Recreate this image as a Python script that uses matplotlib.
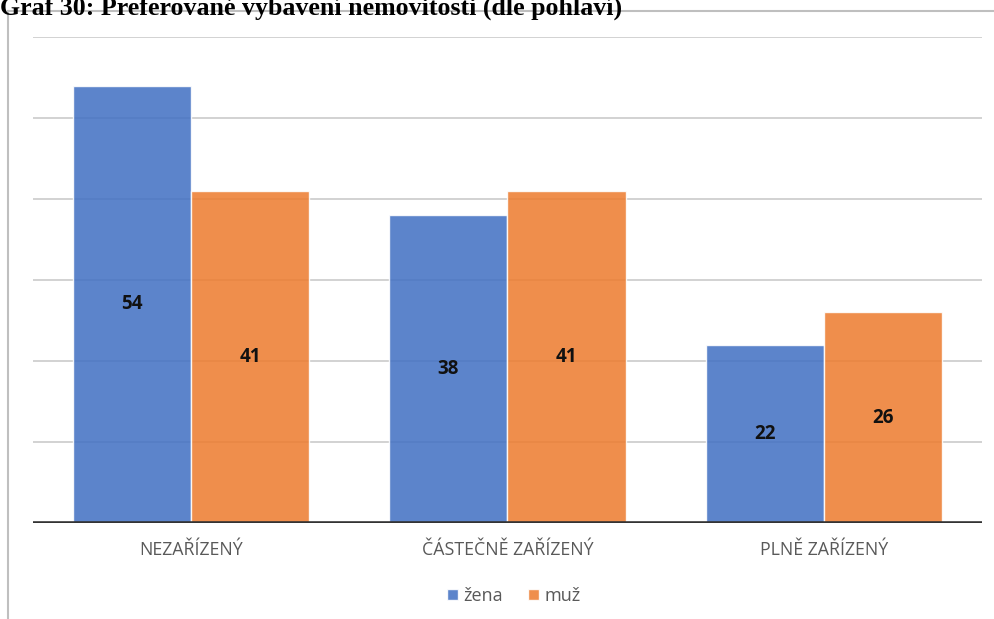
import matplotlib
matplotlib.use("Agg")
import matplotlib.pyplot as plt
from matplotlib.lines import Line2D
import numpy as np

title = "Graf 30: Preferované vybavení nemovitosti (dle pohlaví)"
categories = ["NEZAŘÍZENÝ", "ČÁSTEČNĚ ZAŘÍZENÝ", "PLNĚ ZAŘÍZENÝ"]
series_names = ["žena", "muž"]
zena = [54, 38, 22]
muz = [41, 41, 26]
colors = ["#4472C4", "#ED7D31"]

W, H = 995, 619
fig = plt.figure(figsize=(W / 100, H / 100), dpi=100)

# outer chart frame (top and left edges)
fig.add_artist(Line2D([8 / W, 8 / W], [0, 1 - 11 / H], transform=fig.transFigure,
                      color="#bfbfbf", lw=1.5))
fig.add_artist(Line2D([8 / W, 1], [1 - 11 / H, 1 - 11 / H], transform=fig.transFigure,
                      color="#bfbfbf", lw=1.5))

fig.text(0, 1 - 15 / H, title, fontsize=18.6, fontweight="bold",
         family="Liberation Serif", va="baseline", ha="left")

ax = fig.add_axes([33 / W, (H - 523) / H, (982 - 33) / W, (523 - 37) / H])
x = np.arange(len(categories))
bw = 0.374
ax.set_xlim(-0.5, len(categories) - 0.5)
ax.set_ylim(0, 60)

for yv in range(10, 61, 10):
    ax.axhline(yv, color="#cfcfcf", lw=1.3, zorder=1)

for i, (vals, c) in enumerate(zip([zena, muz], colors)):
    xs = x + (i - 0.5) * bw
    ax.bar(xs, vals, width=bw, color=c, alpha=0.87,
           edgecolor=(1, 1, 1, 0.5), linewidth=1, zorder=2, label=series_names[i])
    for xi, v in zip(xs, vals):
        ax.text(xi, v / 2, str(v), ha="center", va="center", fontsize=13.5,
                fontweight="bold", family="Open Sans", color="#111111", zorder=3)

ax.axhline(0, color="#333333", lw=2.6, zorder=3)
for s in ax.spines.values():
    s.set_visible(False)
ax.set_yticks([])
ax.set_xticks(x)
ax.set_xticklabels(categories, fontsize=12.8, family="Open Sans", color="#595959")
ax.tick_params(axis="x", length=0, pad=13)

leg = ax.legend(loc="center", bbox_to_anchor=(514 / W, 1 - 596 / H),
                bbox_transform=fig.transFigure, ncol=2, frameon=False,
                prop={"family": "Open Sans", "size": 13}, handlelength=0.6,
                handleheight=0.6, handletextpad=0.3, columnspacing=1.4)
for t in leg.get_texts():
    t.set_color("#595959")

fig.savefig("out.png", dpi=100)
